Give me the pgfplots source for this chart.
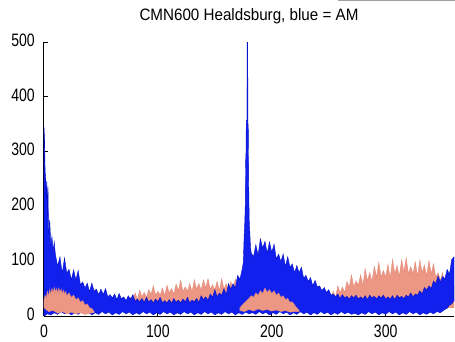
\documentclass[border=0pt]{standalone}
\usepackage{fontspec}
\setmainfont{Liberation Sans}
\newfontfamily\tickfont[FakeStretch=0.78]{Liberation Sans}
\newfontfamily\titlefont[FakeStretch=0.92]{Liberation Sans}
\usepackage{pgfplots}
\pgfplotsset{compat=1.18}
\definecolor{amblue}{RGB}{18,32,238}
\definecolor{amedge}{RGB}{5,15,200}
\definecolor{fmpink}{RGB}{236,150,132}
\definecolor{fmedge}{RGB}{228,138,122}

\begin{document}
\begin{tikzpicture}
\useasboundingbox (-44pt,-25pt) rectangle (411pt,316pt);
\begin{axis}[
  at={(0pt,0pt)}, anchor=south west,
  scale only axis, width=410pt, height=274pt,
  xmin=0, xmax=360, ymin=0, ymax=500,
  axis x line*=bottom, axis y line*=left,
  axis line style={-, line width=1pt},
  xtick={0,100,200,300}, ytick={0,100,...,500},
  tick align=inside, major tick length=4pt,
  tick style={black, line width=0.8pt},
  /pgf/number format/assume math mode=true,
  ticklabel style={font=\fontsize{18}{19}\tickfont, inner sep=0pt},
  yticklabel style={xshift=-9pt, yshift=2pt},
  xticklabel style={yshift=-9pt},
  title={CMN600 Healdsburg, blue = AM},
  title style={font=\fontsize{16.5}{18}\titlefont, at={(0.5,1)}, anchor=base, yshift=16pt},
]
% FM envelopes that sit underneath the AM trace
\addplot[fill=fmpink, draw=fmedge, line width=0.4pt] coordinates {
 (74,26) (76,34) (78,31) (80,42) (82,30) (84,47) (86,35) (88,43) (90,34) (92,48)
 (94,39) (96,55) (98,38) (100,45) (102,38) (104,51) (106,37) (108,56) (110,42) (112,50)
 (114,40) (116,58) (118,46) (120,65) (122,45) (124,53) (126,45) (128,59) (130,44) (132,66)
 (134,49) (136,59) (138,47) (140,66) (142,51) (144,68) (146,49) (148,57) (150,48) (152,63)
 (154,46) (156,68) (158,49) (160,59) (162,46) (164,63) (166,50) (168,67) (170,46) (172,50)
 (174,30) (174,15) (74,15)
} -- cycle;
\addplot[fill=fmpink, draw=fmedge, line width=0.4pt] coordinates {
 (250,36) (252,32) (254,45) (256,34) (258,55) (260,42) (262,53) (264,43) (266,63) (268,52)
 (270,75) (272,53) (274,64) (276,56) (278,75) (280,56) (282,86) (284,64) (286,79) (288,63)
 (290,90) (292,71) (294,98) (296,71) (298,83) (300,71) (302,94) (304,69) (306,103) (308,77)
 (310,92) (312,72) (314,102) (316,80) (318,106) (320,77) (322,90) (324,77) (326,99) (328,72)
 (330,102) (332,79) (334,93) (336,73) (338,101) (340,77) (342,95) (344,71) (346,79) (348,65)
 (350,79) (352,54) (354,77) (356,53) (358,60) (360,55) (360,15) (250,15)
} -- cycle;
% AM trace: upper envelope left to right, lower envelope back
\addplot[fill=amblue, draw=amedge, line width=0.4pt] coordinates {
 (0,345) (0.5,320) (1,262) (1.5,255) (2,215) (2.5,245) (3,180) (3.5,236) (4,150) (5,175)
 (6,130) (7,145) (8,118) (9,135)
 (10,112) (12,91) (14,108) (16,78) (18,106) (20,78) (22,85) (24,66) (26,84) (28,66)
 (30,83) (32,57) (34,62) (36,51) (38,60) (40,44) (42,60) (44,45) (46,49) (48,39)
 (50,49) (52,39) (54,50) (56,35) (58,39) (60,33) (62,40) (64,30) (66,41) (68,31)
 (70,35) (72,28) (74,37) (76,30) (78,39) (80,27) (82,31) (84,26) (86,32) (88,25)
 (90,34) (92,26) (94,30) (96,24) (98,31) (100,26) (102,34) (104,24) (106,28) (108,24)
 (110,30) (112,23) (114,32) (116,25) (118,29) (120,24) (122,31) (124,26) (126,34) (128,24)
 (130,29) (132,26) (134,32) (136,25) (138,37) (140,30) (142,35) (144,29) (146,40) (148,34)
 (150,48) (152,35) (154,42) (156,38) (158,50) (160,39) (162,59) (164,49) (166,59) (168,51)
 (170,74) (172,67) (174,85) (175,98) (175.8,150) (176.3,172) (176.8,210) (177,280) (177.4,300) (177.6,357)
 (178.2,357) (178.3,500) (178.9,500) (179,357) (179.4,340) (179.6,280) (179.8,230) (180.2,175) (180.8,150) (181.3,125)
 (182,115) (184,108) (186,130) (188,111) (190,141) (192,124) (194,136) (196,115) (198,135) (200,116)
 (202,131) (204,104) (206,113) (208,99) (210,113) (212,90) (214,108) (216,89) (218,95) (220,79)
 (222,92) (224,79) (226,89) (228,69) (230,74) (232,63) (234,70) (236,55) (238,65) (240,53)
 (242,55) (244,46) (246,52) (248,43) (250,48) (252,38) (254,40) (256,35) (258,40) (260,32)
 (262,39) (264,33) (266,36) (268,31) (270,37) (272,33) (274,38) (276,31) (278,35) (280,31)
 (282,37) (284,30) (286,38) (288,33) (290,36) (292,31) (294,37) (296,33) (298,38) (300,31)
 (302,35) (304,31) (306,37) (308,30) (310,38) (312,33) (314,36) (316,32) (318,38) (320,35)
 (322,42) (324,35) (326,40) (328,38) (330,46) (332,40) (334,52) (336,47) (338,55) (340,50)
 (342,64) (344,59) (346,73) (348,62) (350,72) (352,68) (354,85) (356,76) (358,103) (360,108)
 (360,28) (358,22) (356,20) (354,14) (352,12) (350,9) (348,6) (345,8) (342,4) (339,7)
 (336,3) (333,6) (330,2) (327,7) (324,4) (321,8) (318,3) (315,6) (312,2) (309,7)
 (306,4) (303,8) (300,3) (297,6) (294,2) (291,7) (288,4) (285,8) (282,3) (279,6)
 (276,2) (273,5) (270,3) (267,7) (264,4) (261,8) (258,3) (255,6) (252,2) (249,7)
 (246,4) (243,8) (240,3) (237,6) (234,2) (231,7) (228,4) (225,8) (222,3) (219,6)
 (216,2) (213,7) (210,4) (207,8) (204,3) (201,6) (198,2) (195,7) (192,4) (189,8)
 (186,3) (183,6) (180,4) (177,7) (174,3) (171,6) (168,2) (165,7) (162,4) (159,8)
 (156,3) (153,6) (150,2) (147,7) (144,4) (141,8) (138,3) (135,6) (132,2) (129,7)
 (126,4) (123,8) (120,3) (117,6) (114,2) (111,7) (108,4) (105,8) (102,3) (99,6)
 (96,2) (93,7) (90,4) (87,8) (84,3) (81,6) (78,2) (75,7) (72,4) (69,8)
 (66,3) (63,6) (60,2) (57,7) (54,4) (51,8) (48,3) (45,6) (42,2) (39,7)
 (36,4) (33,8) (30,3) (27,6) (24,2) (21,7) (18,4) (15,8) (12,3) (9,6)
 (6,2) (3,4) (0,0)
} -- cycle;
% FM humps that show on top of the AM trace
\addplot[fill=fmpink, draw=fmedge, line width=0.4pt] coordinates {
 (0,30) (1,38) (2,32) (3,45) (4,36) (5,48) (6,40) (7,50) (8,43) (9,52)
 (10,44) (11,50) (12,42) (13,51) (14,43) (15,49) (16,41) (17,47) (18,40) (19,45)
 (20,37) (22,42) (24,34) (26,38) (28,30) (30,33) (32,25) (34,28) (36,20) (38,22)
 (40,15) (42,14) (44,8)
 (44,6) (40,5) (36,3) (32,6) (28,4) (24,7) (20,4) (16,8) (12,5) (8,10) (4,8) (0,15)
} -- cycle;
\addplot[fill=fmpink, draw=fmedge, line width=0.4pt] coordinates {
 (172,15) (175,22) (178,28) (180,32) (182,37) (184,34) (186,42) (188,38) (190,46) (192,41)
 (194,51) (196,43) (198,48) (200,41) (202,46) (204,38) (206,42) (208,34) (210,37) (212,30)
 (214,32) (216,25) (218,26) (220,20) (222,15) (224,10)
 (224,8) (220,8) (216,7) (212,10) (208,8) (204,11) (200,9) (196,12) (192,10) (188,13)
 (184,9) (180,12) (176,8) (172,10)
} -- cycle;
\end{axis}
\draw[gray!75, line width=1.2pt] (294pt,315.6pt) -- (411pt,315.6pt);
\end{tikzpicture}
\end{document}
